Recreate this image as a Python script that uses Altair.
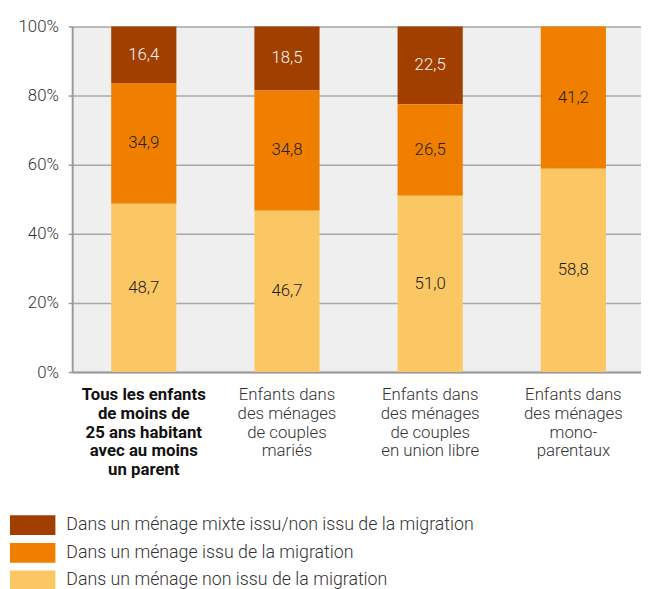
import altair as alt
import pandas as pd

categories = [
    "Tous les enfants|de moins de|25 ans habitant|avec au moins|un parent",
    "Enfants dans|des ménages|de couples|mariés",
    "Enfants dans|des ménages|de couples|en union libre",
    "Enfants dans|des ménages|mono-|parentaux",
]
series = [
    "Dans un ménage mixte issu/non issu de la migration",
    "Dans un ménage issu de la migration",
    "Dans un ménage non issu de la migration",
]
colors = ["#A03F00", "#F07F00", "#FBC664"]
mixte = [16.4, 18.5, 22.5, 0.0]
issu = [34.9, 34.8, 26.5, 41.2]
non_issu = [48.7, 46.7, 51.0, 58.8]
y_ticks = [0, 20, 40, 60, 80, 100]

rows = []
for s_idx, (name, vals) in enumerate(zip(series, [mixte, issu, non_issu])):
    for c, v in zip(categories, vals):
        rows.append({
            "cat": c,
            "series": name,
            "value": v,
            "rank": 2 - s_idx,
            "label": f"{v:.1f}".replace(".", ","),
        })
df = pd.DataFrame(rows)
df = df[df["value"] > 0]

FONT = "Roboto"

x_enc = alt.X(
    "cat:N",
    sort=categories,
    scale=alt.Scale(range=[0, 580], paddingInner=0, paddingOuter=0),
    axis=alt.Axis(
        title=None,
        labelExpr="split(datum.value, '|')",
        labelAngle=0,
        labelFont=FONT,
        labelFontSize=17,
        labelLineHeight=19,
        labelFontWeight=alt.condition(
            f"datum.value == '{categories[0]}'", alt.value("bold"), alt.value(300)
        ),
        labelColor=alt.condition(
            f"datum.value == '{categories[0]}'", alt.value("#111111"), alt.value("#333333")
        ),
        labelPadding=15,
        ticks=False,
        domainColor="#9a9a9a",
        domainWidth=2,
        labelBaseline="top",
    ),
)

base = alt.Chart(df).encode(x=x_enc)

bars = base.mark_bar(size=66).encode(
    y=alt.Y(
        "value:Q",
        stack="zero",
        scale=alt.Scale(domain=[0, 100], nice=False),
        axis=alt.Axis(
            title=None,
            values=y_ticks,
            labelExpr="datum.value + '%'",
            labelFont=FONT,
            labelFontSize=17,
            labelFontWeight=300,
            labelColor="#333333",
            labelPadding=10,
            tickSize=4,
            tickColor="#9a9a9a",
            tickWidth=1.5,
            domainColor="#9a9a9a",
            domainWidth=2,
            grid=True,
            gridColor="#a8a8a8",
            gridWidth=1.5,
        ),
    ),
    color=alt.Color(
        "series:N",
        scale=alt.Scale(domain=series, range=colors),
        legend=alt.Legend(
            title=None,
            orient="none",
            legendX=-50,
            legendY=495,
            symbolType="M-2.3,-1H2.3V1H-2.3Z",
            symbolSize=400,
            symbolStrokeWidth=0,
            symbolOpacity=1,
            labelFont=FONT,
            labelFontSize=18,
            labelFontWeight=300,
            labelColor="#333333",
            labelOffset=24,
            rowPadding=8,
            labelLimit=600,
        ),
    ),
    order=alt.Order("rank:Q"),
)

texts = base.mark_text(font=FONT, fontSize=17, fontWeight=300).encode(
    y=alt.Y("mid:Q"),
    text="label:N",
    color=alt.condition(
        alt.datum.rank == 2, alt.value("#f4f4f4"), alt.value("#222222")
    ),
).transform_stack(
    stack="value", groupby=["cat"], as_=["y0", "y1"], sort=[alt.SortField("rank", "ascending")]
).transform_calculate(mid="(datum.y0 + datum.y1) / 2")

chart = alt.layer(bars, texts).properties(
    width=576,
    height=350,
    autosize=alt.AutoSizeParams(type="none"),
    padding={"left": 65, "top": 15, "right": 0, "bottom": 216},
).configure_view(fill="#efefef", stroke=None)

chart.save("out.html", embed_options={"renderer": "svg", "actions": False})
